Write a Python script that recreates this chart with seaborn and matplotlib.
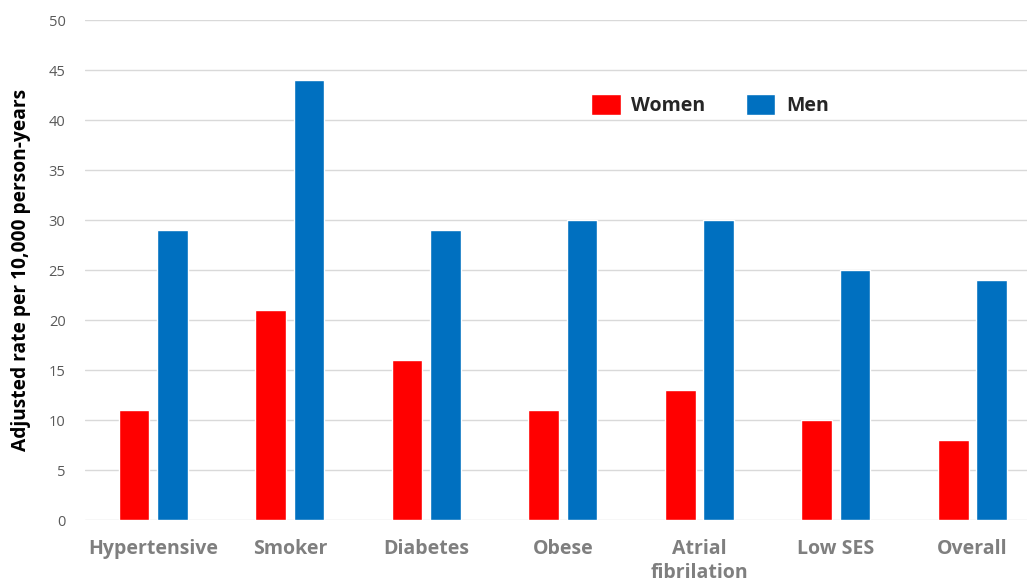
import matplotlib
matplotlib.use("Agg")
import matplotlib.pyplot as plt
import seaborn as sns
import pandas as pd

categories = ["Hypertensive", "Smoker", "Diabetes", "Obese",
              "Atrial\nfibrilation", "Low SES", "Overall"]
women = [11, 21, 16, 11, 13, 10, 8]
men = [29, 44, 29, 30, 30, 25, 24]
yticks = [0, 5, 10, 15, 20, 25, 30, 35, 40, 45, 50]

df = pd.DataFrame({
    "category": categories * 2,
    "sex": ["Women"] * len(categories) + ["Men"] * len(categories),
    "rate": women + men,
})

sns.set_theme(style="white")
plt.rcParams["font.family"] = ["Open Sans", "DejaVu Sans"]

fig = plt.figure(figsize=(10.27, 5.87), dpi=100)
ax = fig.add_axes([85 / 1027, 67 / 587, 942 / 1027, 500 / 587])

sns.barplot(data=df, x="category", y="rate", hue="sex",
            palette={"Women": "#FF0000", "Men": "#0070C0"},
            width=0.56, gap=0.2, saturation=1, ax=ax, zorder=3)

ax.set_ylim(0, 50)
ax.set_xlim(-0.5, 6.4)
ax.set_yticks(yticks)
ax.yaxis.grid(True, color="#D9D9D9", linewidth=1, zorder=0)
ax.set_axisbelow(True)
for s in ax.spines.values():
    s.set_visible(False)

ax.tick_params(axis="y", length=0, pad=14, labelsize=10.5, labelcolor="#595959")
ax.tick_params(axis="x", length=0, pad=14)
for lbl in ax.get_xticklabels():
    lbl.set_fontsize(14)
    lbl.set_fontweight("bold")
    lbl.set_color("#7F7F7F")
    lbl.set_linespacing(1.25)

ax.set_xlabel("")
ax.set_ylabel("Adjusted rate per 10,000 person-years", fontsize=13.8,
              fontweight="bold", color="black", labelpad=13)

ax.legend(loc="center left", bbox_to_anchor=(0.519, 0.83), ncol=2,
          frameon=False, prop={"size": 14, "weight": "bold"},
          handlelength=1.5, handleheight=1.3, handletextpad=0.55,
          columnspacing=2.1)

fig.savefig("out.png", dpi=100)
